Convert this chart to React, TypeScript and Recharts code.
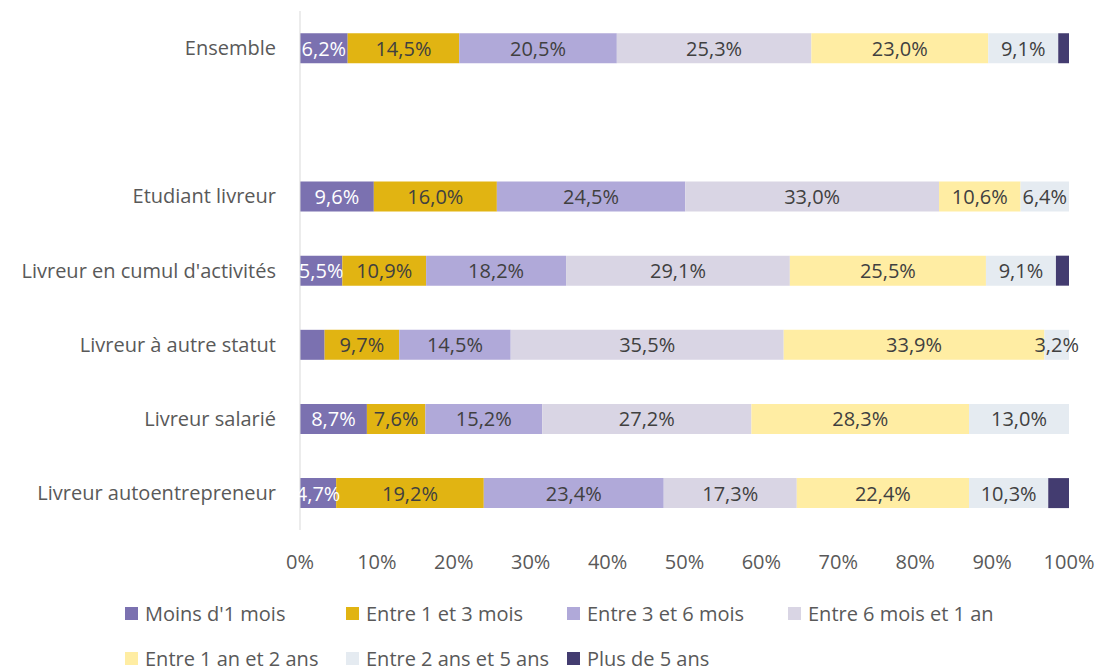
import React from 'react';
import { BarChart, Bar, XAxis, YAxis, LabelList } from 'recharts';

const categories = [
  'Ensemble',
  '',
  'Etudiant livreur',
  "Livreur en cumul d'activités",
  'Livreur à autre statut',
  'Livreur salarié',
  'Livreur autoentrepreneur',
];

const moins1Mois = [6.2, null, 9.6, 5.5, 3.2, 8.7, 4.7];
const entre1et3Mois = [14.5, null, 16.0, 10.9, 9.7, 7.6, 19.2];
const entre3et6Mois = [20.5, null, 24.5, 18.2, 14.5, 15.2, 23.4];
const entre6MoisEt1An = [25.3, null, 33.0, 29.1, 35.5, 27.2, 17.3];
const entre1Et2Ans = [23.0, null, 10.6, 25.5, 33.9, 28.3, 22.4];
const entre2Et5Ans = [9.1, null, 6.4, 9.1, 3.2, 13.0, 10.3];
const plusDe5Ans = [1.4, null, 0, 1.7, 0, 0, 2.7];

const xTicks = [0, 10, 20, 30, 40, 50, 60, 70, 80, 90, 100];

const series = [
  { key: 'm1', name: "Moins d'1 mois", values: moins1Mois, color: '#7B71B0', labelColor: '#FFFFFF', labels: true },
  { key: 'm13', name: 'Entre 1 et 3 mois', values: entre1et3Mois, color: '#E1B412', labelColor: '#404040', labels: true },
  { key: 'm36', name: 'Entre 3 et 6 mois', values: entre3et6Mois, color: '#B0A9D9', labelColor: '#404040', labels: true },
  { key: 'm612', name: 'Entre 6 mois et 1 an', values: entre6MoisEt1An, color: '#D9D5E4', labelColor: '#404040', labels: true },
  { key: 'a12', name: 'Entre 1 an et 2 ans', values: entre1Et2Ans, color: '#FFEDA3', labelColor: '#404040', labels: true },
  { key: 'a25', name: 'Entre 2 ans et 5 ans', values: entre2Et5Ans, color: '#E5EBF1', labelColor: '#404040', labels: true },
  { key: 'p5', name: 'Plus de 5 ans', values: plusDe5Ans, color: '#433C70', labelColor: '#FFFFFF', labels: false },
];

// labels removed in the original chart
const hiddenLabels = [{ key: 'm1', category: 'Livreur à autre statut' }];

const fmt = (v: number) => v.toFixed(1).replace('.', ',') + '%';

const data = categories.map((name, i) => {
  const row: Record<string, any> = { name };
  series.forEach((s) => {
    const v = s.values[i];
    row[s.key] = v;
    const hidden = hiddenLabels.some((h) => h.key === s.key && h.category === name);
    row[s.key + '_lbl'] = v && !hidden ? fmt(v) : '';
  });
  return row;
});

const FONT = '"Open Sans", sans-serif';
const FS = 20;

function makeLabel(color: string) {
  return (props: any) => {
    const { x, y, width, height, value } = props;
    if (!value) return null;
    return (
      <text
        x={x + width / 2}
        y={y + height / 2}
        textAnchor="middle"
        dominantBaseline="central"
        fill={color}
        fontSize={FS}
        fontFamily={FONT}
      >
        {value}
      </text>
    );
  };
}

function LegendBlock() {
  const rows = [series.slice(0, 4), series.slice(4)];
  return (
    <div style={{ position: 'absolute', top: 583, left: 117, fontFamily: FONT, fontSize: FS, color: '#595959' }}>
      {rows.map((row, ri) => (
        <div key={ri} style={{ display: 'flex', height: 45, alignItems: 'center' }}>
          {row.map((s) => (
            <div key={s.key} style={{ width: 221, display: 'flex', alignItems: 'center', whiteSpace: 'nowrap' }}>
              <span style={{ width: 13, height: 13, background: s.color, marginRight: 7, display: 'inline-block' }} />
              <span>{s.name}</span>
            </div>
          ))}
        </div>
      ))}
    </div>
  );
}

export default function App() {
  return (
    <div style={{ position: 'relative', width: 1096, height: 662 }}>
      <BarChart
        width={1096}
        height={662}
        data={data}
        layout="vertical"
        margin={{ top: 3, right: 35, bottom: 110, left: 0 }}
        barCategoryGap="30%"
      >
        <XAxis
          type="number"
          domain={[0, 100]}
          ticks={xTicks}
          allowDataOverflow
          axisLine={false}
          tickLine={false}
          tickFormatter={(v) => v + '%'}
          tick={{ fill: '#595959', fontSize: FS, fontFamily: FONT }}
          tickMargin={19}
          height={30}
        />
        <YAxis
          type="category"
          dataKey="name"
          width={292}
          axisLine={{ stroke: '#D9D9D9' }}
          tickLine={false}
          tick={{ fill: '#595959', fontSize: FS, fontFamily: FONT }}
          tickMargin={18}
          interval={0}
        />
        {series.map((s) => (
          <Bar key={s.key} dataKey={s.key} name={s.name} stackId="a" fill={s.color} isAnimationActive={false}>
            {s.labels && <LabelList dataKey={s.key + '_lbl'} content={makeLabel(s.labelColor)} />}
          </Bar>
        ))}
      </BarChart>
      <LegendBlock />
    </div>
  );
}
